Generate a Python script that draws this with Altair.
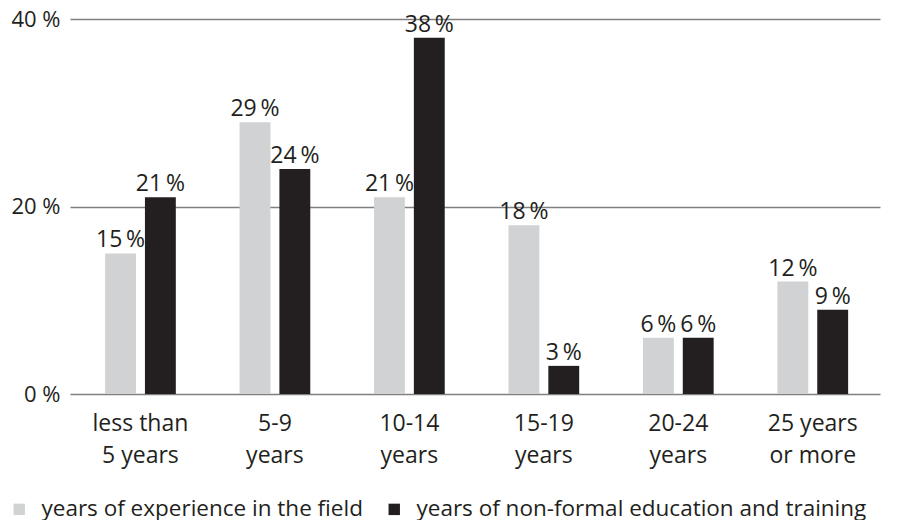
import altair as alt
import pandas as pd

categories = ["less than|5 years", "5-9|years", "10-14|years", "15-19|years", "20-24|years", "25 years|or more"]
series_names = ["years of experience in the field", "years of non-formal education and training"]
experience = [15, 29, 21, 18, 6, 12]
nonformal = [21, 24, 38, 3, 6, 9]
y_ticks = [0, 20, 40]

rows = []
for c, a, b in zip(categories, experience, nonformal):
    rows.append({"cat": c, "series": series_names[0], "value": a})
    rows.append({"cat": c, "series": series_names[1], "value": b})
df = pd.DataFrame(rows)
df["label"] = df["value"].astype(str) + "\u2009%"

FONT = "Open Sans"
TXT = "#231f20"
FS = 22
FS2 = 23

x = alt.X("cat:N", sort=categories, title=None,
          scale=alt.Scale(paddingInner=0, paddingOuter=0.012, align=1),
          axis=alt.Axis(labelExpr="split(datum.label, '|')", labelAngle=0,
                        labelFontSize=FS2, labelFont=FONT, labelColor=TXT,
                        labelPadding=18, labelLineHeight=32, ticks=False, domain=False,
                        labelBaseline="top"))
xo = alt.XOffset("series:N", sort=series_names,
                 scale=alt.Scale(paddingInner=0.225, paddingOuter=0.8))
y = alt.Y("value:Q", title=None,
          scale=alt.Scale(domain=[0, 40], nice=False),
          axis=alt.Axis(values=y_ticks, labelExpr="datum.value + ' %'",
                        labelFontSize=FS, labelFont=FONT, labelColor=TXT,
                        labelPadding=10, ticks=False, domain=False,
                        grid=True, gridColor="#808080", gridWidth=1.6))
color = alt.Color("series:N", sort=series_names,
                  scale=alt.Scale(domain=series_names, range=["#d1d2d4", "#231f20"]),
                  legend=alt.Legend(title=None, orient="none", direction="horizontal",
                                    legendX=-62, legendY=479,
                                    symbolType="square", symbolSize=130, symbolStrokeWidth=0,
                                    labelFontSize=22.5, labelFont=FONT, labelColor=TXT,
                                    labelLimit=0, labelOffset=11, columnPadding=20))

bars = alt.Chart(df).mark_bar().encode(x=x, xOffset=xo, y=y, color=color)
text = alt.Chart(df).mark_text(baseline="bottom", dy=-1, fontSize=FS2, font=FONT, color=TXT).encode(
    x=x, xOffset=xo, y=y, text="label:N")

chart = (bars + text).properties(
    width=810, height=375,
    autosize=alt.AutoSizeParams(type="none"),
    padding={"left": 62, "top": 11, "right": 11, "bottom": 126},
).configure_view(stroke=None)

chart.save("out.html", embed_options={"renderer": "svg", "actions": False})
